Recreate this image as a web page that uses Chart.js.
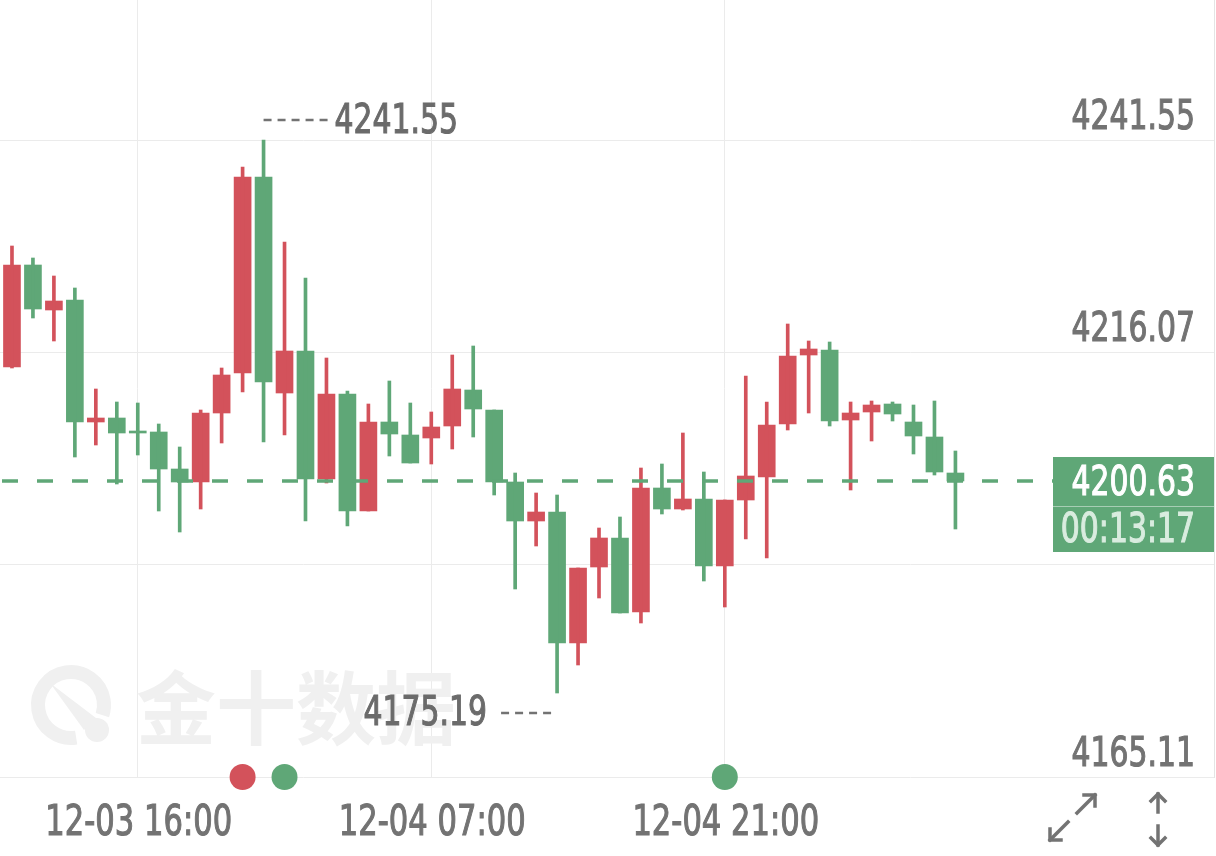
<!DOCTYPE html>
<html>
<head>
<meta charset="utf-8">
<style>
    body { margin: 0; background: #fff; }
    #wrap { width: 1216px; height: 856px; }
</style>
</head>
<body>
<div id="wrap"><canvas id="kline" width="1216" height="856"></canvas></div>

<script src="https://cdn.jsdelivr.net/npm/chart.js"></script>
<script>

// 1h candles
var times = ['12-03 10:00','12-03 11:00','12-03 12:00','12-03 13:00','12-03 14:00','12-03 15:00','12-03 16:00','12-03 17:00',
    '12-03 18:00','12-03 19:00','12-03 20:00','12-03 21:00','12-03 22:00','12-03 23:00','12-04 00:00','12-04 01:00',
    '12-04 02:00','12-04 03:00','12-04 04:00','12-04 05:00','12-04 07:00','12-04 08:00','12-04 09:00','12-04 10:00',
    '12-04 11:00','12-04 12:00','12-04 13:00','12-04 14:00','12-04 15:00','12-04 16:00','12-04 17:00','12-04 18:00',
    '12-04 19:00','12-04 20:00','12-04 21:00','12-04 22:00','12-04 23:00','12-05 00:00','12-05 01:00','12-05 02:00',
    '12-05 03:00','12-05 04:00','12-05 05:00','12-05 07:00','12-05 08:00','12-05 09:00']

var opens = [4214.31,4226.55,4221.15,4222.35,4207.71,4208.19,4206.51,4206.51,4202.07,4200.51,4208.79,4213.59,4237.11,4211.19,4216.23,4200.87,
    4211.07,4197.03,4207.71,4206.15,4205.79,4207.23,4211.55,4209.15,4200.51,4195.83,4196.91,4181.19,4190.31,4193.79,4184.91,4199.79,
    4197.27,4198.47,4190.43,4198.35,4201.11,4207.47,4215.75,4216.35,4207.95,4208.91,4209.87,4207.71,4205.91,4201.59]
var highs = [4228.83,4227.39,4225.23,4223.79,4211.67,4210.11,4209.99,4207.47,4204.71,4209.15,4214.19,4238.31,4241.55,4229.31,4224.99,4215.39,
    4211.43,4209.87,4212.63,4209.99,4208.91,4215.75,4216.83,4209.15,4201.59,4199.19,4198.95,4190.19,4194.99,4196.31,4202.19,4202.67,
    4206.39,4201.71,4198.35,4213.23,4210.11,4219.47,4217.43,4217.31,4210.11,4210.23,4210.11,4209.75,4210.23,4204.23]
var lows = [4214.19,4220.19,4217.43,4203.51,4204.95,4200.27,4203.75,4197.03,4194.51,4197.27,4205.19,4211.31,4205.31,4206.15,4195.83,4200.39,
    4195.23,4197.03,4203.63,4202.79,4202.67,4204.47,4205.91,4198.95,4187.67,4192.83,4175.19,4178.55,4186.59,4184.79,4183.59,4196.67,
    4197.15,4188.63,4185.51,4193.67,4191.39,4206.75,4208.79,4207.23,4199.55,4205.43,4207.83,4203.87,4201.35,4194.87]
var closes = [4226.55,4221.27,4222.23,4207.71,4208.19,4206.39,4206.39,4202.07,4200.51,4208.79,4213.35,4237.11,4212.51,4216.23,4200.87,4211.07,
    4197.03,4207.71,4206.27,4202.79,4207.11,4211.67,4209.27,4200.51,4195.83,4196.91,4181.19,4190.19,4193.79,4184.79,4199.79,4197.27,
    4198.47,4190.43,4198.35,4201.23,4207.35,4215.63,4216.47,4207.83,4208.79,4209.75,4208.67,4206.03,4201.71,4200.63]

var yTicks = [4165.11, 4190.59, 4216.07, 4241.55]
var yTickText = ['4165.11', '', '4216.07', '4241.55']
var xTicks = [6, 20, 34]
var markerIdx = [11, 13, 34]
var markerUp = [true, false, false]
var countdown = '00:13:17'

var RED = '#d3525b'
var GREEN = '#5fa777'
var GREY = '#737373'
var NUMFONT = "'DejaVu Sans Condensed', 'DejaVu Sans', sans-serif"
var SQUEEZE = 0.81

var candleColors = opens.map(function (o, i) { return closes[i] >= o ? RED : GREEN })

var wickData = lows.map(function (l, i) { return { x: i, y: [l, highs[i]] } })
var bodyData = opens.map(function (o, i) { return { x: i, y: [o, closes[i]] } })

// narrow digits like the app font
function numText(ctx, str, x, y, align, color, size) {
    ctx.save()
    ctx.translate(x, y)
    ctx.scale(SQUEEZE, 1)
    ctx.font = (size || 41) + 'px ' + NUMFONT
    ctx.textAlign = align
    ctx.textBaseline = 'alphabetic'
    ctx.fillStyle = color
    ctx.strokeStyle = color
    ctx.lineWidth = 1.1
    ctx.fillText(str, 0, 0)
    ctx.strokeText(str, 0, 0)
    ctx.restore()
}

function dashes(ctx, x1, x2, y) {
    ctx.save()
    ctx.strokeStyle = GREY
    ctx.lineWidth = 2.5
    ctx.setLineDash([8, 6])
    ctx.beginPath()
    ctx.moveTo(x1, y)
    ctx.lineTo(x2, y)
    ctx.stroke()
    ctx.restore()
}

function line(ctx, pts) {
    ctx.beginPath()
    ctx.moveTo(pts[0], pts[1])
    for (var k = 2; k < pts.length; k += 2) ctx.lineTo(pts[k], pts[k + 1])
    ctx.stroke()
}

var overlay = {
    id: 'overlay',
    beforeDatasetsDraw: function (chart) {
        var ctx = chart.ctx
        ctx.save()
        // watermark
        ctx.fillStyle = '#f0f0f0'
        ctx.strokeStyle = '#f0f0f0'
        ctx.font = "bold 80px 'Noto Sans CJK SC'"
        ctx.textBaseline = 'middle'
        ctx.textAlign = 'left'
        ctx.fillText('金十数据', 136, 708)
        ctx.lineWidth = 14
        ctx.beginPath()
        ctx.arc(71, 705, 33, 0.45 * Math.PI, 2.1 * Math.PI)
        ctx.stroke()
        ctx.beginPath()
        ctx.moveTo(50, 683)
        ctx.lineTo(96, 718)
        ctx.lineTo(84, 730)
        ctx.closePath()
        ctx.fill()
        ctx.beginPath()
        ctx.arc(97, 730, 12, 0, 2 * Math.PI)
        ctx.fill()
        ctx.restore()
    },
    afterDraw: function (chart) {
        var ctx = chart.ctx
        var xs = chart.scales.x
        var ys = chart.scales.y
        var area = chart.chartArea
        var last = closes.length - 1
        var lastY = ys.getPixelForValue(closes[last])
        var boxLeft = 1053
        ctx.save()

        // axis labels
        yTicks.forEach(function (v, k) {
            if (yTickText[k]) numText(ctx, yTickText[k], 1195, ys.getPixelForValue(v) - 11, 'right', GREY)
        })
        xTicks.forEach(function (v) {
            numText(ctx, times[v], xs.getPixelForValue(v) + 1, 835, 'center', GREY, 42)
        })

        // last price line
        ctx.strokeStyle = GREEN
        ctx.lineWidth = 3.5
        ctx.setLineDash([16, 19])
        ctx.beginPath()
        ctx.moveTo(area.left + 2, lastY)
        ctx.lineTo(boxLeft, lastY)
        ctx.stroke()
        ctx.setLineDash([])

        // price box
        ctx.fillStyle = GREEN
        ctx.fillRect(boxLeft, lastY - 24, 161, 95)
        ctx.fillStyle = 'rgba(255,255,255,0.45)'
        ctx.fillRect(boxLeft, lastY + 25, 161, 1)
        numText(ctx, closes[last].toFixed(2), 1195, lastY + 14, 'right', '#ffffff')
        numText(ctx, countdown, 1195, lastY + 61, 'right', '#d9ecdf')

        // max / min labels
        var hi = highs.indexOf(Math.max.apply(null, highs))
        var lo = lows.indexOf(Math.min.apply(null, lows))
        var hx = xs.getPixelForValue(hi), hy = ys.getPixelForValue(highs[hi])
        var lx = xs.getPixelForValue(lo), ly = ys.getPixelForValue(lows[lo])
        dashes(ctx, hx, hx + 66, hy - 20)
        dashes(ctx, lx - 56, lx - 5, ly + 20)
        numText(ctx, highs[hi].toFixed(2), hx + 71, hy - 7, 'left', '#6b6b6b')
        numText(ctx, lows[lo].toFixed(2), lx - 70, ly + 32, 'right', '#6b6b6b')

        // event markers
        markerIdx.forEach(function (idx, k) {
            ctx.fillStyle = markerUp[k] ? RED : GREEN
            ctx.beginPath()
            ctx.arc(xs.getPixelForValue(idx), area.bottom, 13, 0, 2 * Math.PI)
            ctx.fill()
        })

        // zoom icons
        ctx.strokeStyle = GREY
        ctx.lineWidth = 3.5
        ctx.lineCap = 'square'
        line(ctx, [1077, 813, 1095, 795])
        line(ctx, [1084, 795, 1095, 795, 1095, 806])
        line(ctx, [1068, 822, 1050, 840])
        line(ctx, [1050, 829, 1050, 840, 1061, 840])
        line(ctx, [1158, 812, 1158, 794])
        line(ctx, [1151, 801, 1158, 794, 1165, 801])
        line(ctx, [1158, 826, 1158, 845])
        line(ctx, [1151, 838, 1158, 845, 1165, 838])
        ctx.restore()
    }
}

var ctx = document.getElementById('kline').getContext('2d')
var chart = new Chart(ctx, {
    type: 'bar',
    data: {
        datasets: [{
            label: 'wick',
            data: wickData,
            backgroundColor: candleColors,
            barThickness: 3,
            grouped: false,
            borderWidth: 0
        }, {
            label: 'body',
            data: bodyData,
            backgroundColor: candleColors,
            barThickness: 17,
            grouped: false,
            minBarLength: 2,
            borderWidth: 0
        }]
    },
    options: {
        responsive: false,
        animation: false,
        layout: { padding: { left: 0, right: 2, top: 0, bottom: 79 } },
        plugins: {
            legend: { display: false },
            tooltip: { enabled: false }
        },
        scales: {
            x: {
                type: 'linear',
                offset: false,
                min: -0.571,
                max: 57.333,
                afterBuildTicks: function (scale) {
                    scale.ticks = xTicks.map(function (v) { return { value: v } })
                },
                grid: { color: '#ebebeb', drawTicks: false, offset: false },
                border: { display: false },
                ticks: { display: false }
            },
            y: {
                type: 'linear',
                position: 'right',
                min: 4165.11,
                max: 4258.35,
                afterBuildTicks: function (scale) {
                    scale.ticks = yTicks.map(function (v) { return { value: v } })
                },
                grid: { color: '#ebebeb', drawTicks: false },
                border: { display: true, color: '#e4e4e4' },
                ticks: { display: false }
            }
        }
    },
    plugins: [overlay]
})

</script>
</body>
</html>
